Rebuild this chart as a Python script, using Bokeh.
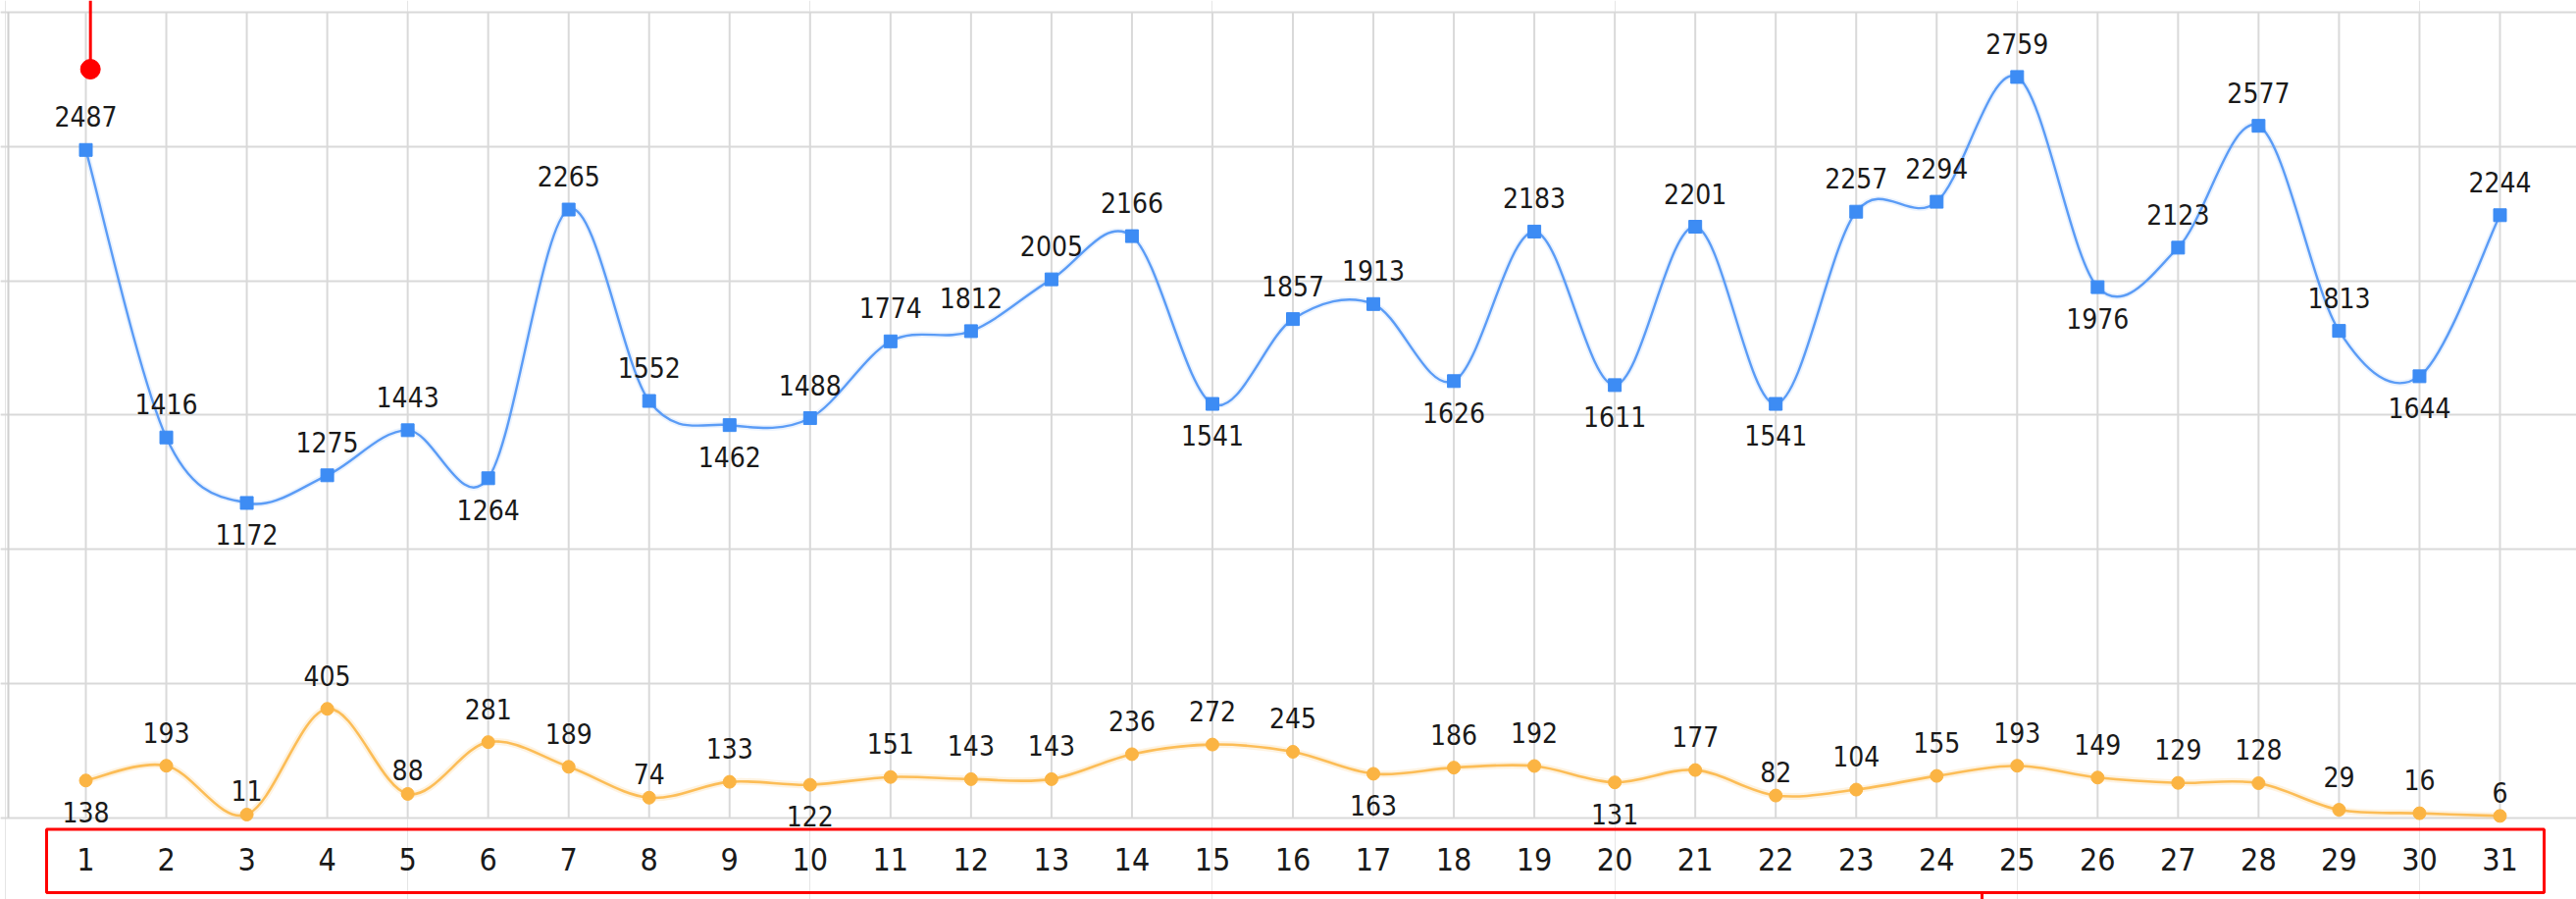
from bokeh.plotting import figure
from bokeh.models import ColumnDataSource, Range1d, Grid, FixedTicker
from bokeh.core.properties import value
from bokeh.embed import file_html
from bokeh.resources import INLINE

# ---------------- data ----------------
days = list(range(1, 32))
day_labels = [str(d) for d in days]
blue_values = [2487, 1416, 1172, 1275, 1443, 1264, 2265, 1552, 1462, 1488, 1774,
               1812, 2005, 2166, 1541, 1857, 1913, 1626, 2183, 1611, 2201, 1541,
               2257, 2294, 2759, 1976, 2123, 2577, 1813, 1644, 2244]
orange_values = [138, 193, 11, 405, 88, 281, 189, 74, 133, 122, 151, 143, 143,
                 236, 272, 245, 163, 186, 192, 131, 177, 82, 104, 155, 193, 149,
                 129, 128, 29, 16, 6]
y_ticks = [0, 500, 1000, 1500, 2000, 2500, 3000]

# label placement (a = above, b = below, n = above, close)
blue_label_pos = list("aabaa" "baaba" "aaaab" "aabab" "abaaa" "baaab" "a")
orange_label_pos = list("banan" "aanab" "aaaaa" "abaab" "anaaa" "aaaaa" "n")

# ---------------- geometry ----------------
W, H = 2626, 916
X_FIRST_PX, X_LAST_PX = 87.0, 2548.0      # canvas px of first / last day
Y_ZERO_PX, Y_TOP_PX = 832.5, 12.0         # canvas px of 0 and of top tick
sx = (X_LAST_PX - X_FIRST_PX) / (days[-1] - days[0])
sy = (Y_ZERO_PX - Y_TOP_PX) / (y_ticks[-1] - y_ticks[0])
x_range = Range1d(days[0] - X_FIRST_PX / sx, days[0] + (W - X_FIRST_PX) / sx)
y_range = Range1d(-(H - Y_ZERO_PX) / sy, y_ticks[-1] + Y_TOP_PX / sy)


def dx(px):
    return x_range.start + px / sx


def dy(py):
    return y_range.end - py / sy


FONT = value("DejaVu Sans Condensed, DejaVu Sans")
GRID = "#d9d9d9"
BLUE_LINE, BLUE_MARK = "#5b9cf6", "#3d8cf4"
ORANGE_LINE, ORANGE_MARK = "#fcbd57", "#fbb443"

p = figure(width=W, height=H, x_range=x_range, y_range=y_range,
           x_axis_location=None, y_axis_location=None,
           toolbar_location=None, output_backend="svg",
           min_border=0, min_border_left=0, min_border_right=0,
           min_border_top=0, min_border_bottom=0,
           outline_line_color=None, background_fill_color="white")

# horizontal gridlines
hgrid = Grid(dimension=1, ticker=FixedTicker(ticks=y_ticks),
             grid_line_color=GRID, grid_line_width=2)
hgrid.bounds = (dx(8), x_range.end)
p.add_layout(hgrid)
# vertical gridlines (only inside the plot area)
p.segment(x0=days, y0=[y_ticks[0]] * len(days), x1=days, y1=[y_ticks[-1]] * len(days),
          line_color=GRID, line_width=2)
# left border
p.segment(x0=[dx(8)], y0=[y_ticks[0]], x1=[dx(8)], y1=[y_ticks[-1]],
          line_color="#d0d0d0", line_width=2)


def smooth(xs, ys):
    n = len(xs)
    out = dict(x0=[], y0=[], x1=[], y1=[], cx0=[], cy0=[], cx1=[], cy1=[])
    for i in range(n - 1):
        a = i - 1 if i > 0 else i
        b = i + 2 if i + 2 < n else i + 1
        out["x0"].append(xs[i]); out["y0"].append(ys[i])
        out["x1"].append(xs[i + 1]); out["y1"].append(ys[i + 1])
        out["cx0"].append(xs[i] + (xs[i + 1] - xs[a]) / 6)
        out["cy0"].append(ys[i] + (ys[i + 1] - ys[a]) / 6)
        out["cx1"].append(xs[i + 1] - (xs[b] - xs[i]) / 6)
        out["cy1"].append(ys[i + 1] - (ys[b] - ys[i]) / 6)
    return ColumnDataSource(out)


blue_curve = smooth(days, blue_values)
orange_curve = smooth(days, orange_values)
BZ = dict(x0="x0", y0="y0", x1="x1", y1="y1", cx0="cx0", cy0="cy0", cx1="cx1", cy1="cy1")

# soft glow
p.bezier(source=orange_curve, line_color=ORANGE_LINE, line_width=7, line_alpha=0.18, **BZ)
p.bezier(source=blue_curve, line_color=BLUE_LINE, line_width=6, line_alpha=0.12, **BZ)
p.bezier(source=orange_curve, line_color=ORANGE_LINE, line_width=2.6, **BZ)
p.bezier(source=blue_curve, line_color=BLUE_LINE, line_width=2.4, **BZ)

OFFS = {"a": -34, "b": 32, "n": -24}
blue_src = ColumnDataSource(dict(x=days, y=blue_values, t=[str(v) for v in blue_values],
                                 off=[OFFS[c] for c in blue_label_pos]))
orange_src = ColumnDataSource(dict(x=days, y=orange_values, t=[str(v) for v in orange_values],
                                   off=[OFFS[c] for c in orange_label_pos]))

p.scatter(x="x", y="y", source=orange_src, marker="circle", size=13,
          fill_color=ORANGE_MARK, line_color=ORANGE_MARK)
p.scatter(x="x", y="y", source=blue_src, marker="square", size=13,
          fill_color=BLUE_MARK, line_color=BLUE_MARK)

for src in (blue_src, orange_src):
    p.text(x="x", y="y", text="t", source=src, y_offset="off",
           text_align="center", text_baseline="middle",
           text_font=FONT, text_font_size="28px", text_color="#1a1a1a")

# category labels
p.text(x=days, y=[y_ticks[0]] * len(days), text=day_labels, y_offset=42,
       text_align="center", text_baseline="middle",
       text_font=FONT, text_font_size="32px", text_color="#1a1a1a")

# red annotations
p.quad(left=[dx(47)], right=[dx(2593)], top=[dy(844.5)], bottom=[dy(909)],
       fill_color=None, line_color="#ff0000", line_width=3)
p.segment(x0=[dx(2020)], y0=[dy(909)], x1=[dx(2020)], y1=[dy(916)],
          line_color="#ff0000", line_width=3)
p.segment(x0=[dx(91.7)], y0=[dy(0)], x1=[dx(91.7)], y1=[dy(70)],
          line_color="#ff0000", line_width=3)
p.scatter(x=[dx(91.7)], y=[dy(70)], marker="circle", size=20,
          fill_color="#ff0000", line_color="#ff0000")

open("out.html", "w").write(file_html(p, INLINE))
